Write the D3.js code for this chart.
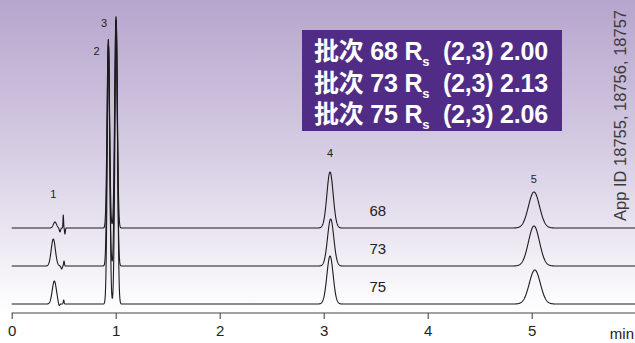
<!DOCTYPE html>
<html>
<head>
<meta charset="utf-8">
<script src="https://cdn.jsdelivr.net/npm/d3@7"></script>
<style>
  html, body { margin: 0; padding: 0; background: #fff; }
  svg { display: block; font-family: "Liberation Sans", Arial, sans-serif; }
</style>
</head>
<body>
<svg id="chart" width="635" height="343"></svg>
<script>
// batches and their Rs(2,3)
const batches = ["68", "73", "75"];
const resolutions = ["2.00", "2.13", "2.06"];
// vertical offset of each trace (signal units above the time axis)
const traceOffsets = [85, 47, 9];

// peak tables: [time (min), height, sigma (min)]
const peaks68 = [
  [0.416, 6, 0.015], [0.464, -4, 0.006], [0.496, 13, 0.003], [0.512, -6, 0.004],
  [0.929, 189, 0.012], [1.003, 212, 0.0125],
  [3.061, 56, 0.030],
  [5.022, 36, 0.053]
];
const peaks73 = [
  [0.400, 27, 0.020], [0.480, -3, 0.006], [0.503, 5, 0.004],
  [0.929, 222, 0.012], [1.003, 247, 0.0125],
  [3.067, 47, 0.030],
  [5.022, 40, 0.053]
];
const peaks75 = [
  [0.410, 23, 0.020], [0.455, -3, 0.007], [0.500, 4, 0.004],
  [0.931, 258, 0.012], [1.005, 284, 0.0125],
  [3.061, 48, 0.030],
  [5.030, 34, 0.053]
];
const peakTables = [peaks68, peaks73, peaks75];

// peak numbers and where their labels sit (time, signal level)
const peakIds = ["1", "2", "3", "4", "5"];
const peakLabelTimes = [0.40, 0.817, 0.887, 3.06, 5.02];
const peakLabelLevels = [115, 258, 286, 156, 130];

const timeTicks = [0, 1, 2, 3, 4, 5];
const appId = "App ID 18755, 18756, 18757";

const width = 635, height = 343;
const axisY = 313;

const svg = d3.select("#chart");

const x = d3.scaleLinear().domain([0, 6]).range([11.7, 635.7]);
const y = d3.scaleLinear().domain([0, axisY]).range([axisY, 0]);

// background gradient
const defs = svg.append("defs");
const grad = defs.append("linearGradient")
  .attr("id", "bg").attr("x1", 0).attr("y1", 0).attr("x2", 0).attr("y2", 1);
grad.append("stop").attr("offset", "0%").attr("stop-color", "#b6a5cd");
grad.append("stop").attr("offset", "50%").attr("stop-color", "#d7cee4");
grad.append("stop").attr("offset", "100%").attr("stop-color", "#ffffff");

svg.append("rect")
  .attr("x", 0).attr("y", 0)
  .attr("width", width).attr("height", axisY)
  .attr("fill", "url(#bg)");

// build signal from peak table
const times = d3.range(0, 6.0005, 0.002);
function signal(table, t) {
  let s = 0;
  for (const [t0, h, sd] of table) {
    const z = (t - t0) / sd;
    if (Math.abs(z) < 8) s += h * Math.exp(-0.5 * z * z);
  }
  return s;
}

const line = d3.line()
  .x((d) => x(d[0]))
  .y((d) => y(d[1]));

const traces = svg.append("g").attr("class", "traces");
peakTables.forEach((table, i) => {
  const pts = times.map((t) => [t, traceOffsets[i] + signal(table, t)]);
  traces.append("path")
    .datum(pts)
    .attr("d", line)
    .attr("fill", "none")
    .attr("stroke", "#1c1c1c")
    .attr("stroke-width", 1.1)
    .attr("stroke-linejoin", "round");
});

// trace labels
svg.append("g").selectAll("text")
  .data(batches)
  .join("text")
  .attr("x", x(3.52))
  .attr("y", (d, i) => y(traceOffsets[i]) - 12)
  .attr("text-anchor", "middle")
  .attr("font-size", 15)
  .attr("fill", "#222")
  .text((d) => d);

// peak labels
svg.append("g").selectAll("text")
  .data(peakIds)
  .join("text")
  .attr("x", (d, i) => x(peakLabelTimes[i]))
  .attr("y", (d, i) => y(peakLabelLevels[i]))
  .attr("text-anchor", "middle")
  .attr("font-size", 11)
  .attr("fill", "#222")
  .text((d) => d);

// time axis
const axis = svg.append("g")
  .attr("transform", `translate(0,${axisY})`)
  .call(d3.axisBottom(x).tickValues(timeTicks).tickSize(6).tickPadding(6).tickFormat(d3.format("d")));
axis.select(".domain").remove();
axis.selectAll(".tick line").attr("stroke", "#333");
axis.selectAll(".tick text")
  .attr("font-size", 15)
  .attr("font-family", "Liberation Sans, Arial, sans-serif")
  .attr("fill", "#222");
axis.append("line")
  .attr("x1", x(0)).attr("x2", width)
  .attr("y1", 0).attr("y2", 0)
  .attr("stroke", "#444").attr("stroke-width", 1.2);
axis.append("text")
  .attr("x", 634).attr("y", 26)
  .attr("text-anchor", "end")
  .attr("font-size", 15)
  .attr("fill", "#222")
  .text("min");

// Rs legend box
const box = svg.append("g").attr("transform", "translate(302,30)");
box.append("rect")
  .attr("width", 260).attr("height", 101)
  .attr("fill", "#512c86");
const rows = box.selectAll("text")
  .data(batches)
  .join("text")
  .attr("x", 12)
  .attr("y", (d, i) => 30 + i * 31.5)
  .attr("fill", "#fff")
  .attr("font-size", 25)
  .attr("font-weight", "bold")
  .attr("letter-spacing", -0.2)
  .attr("font-family", "Liberation Sans, 'Noto Sans CJK SC', Arial, sans-serif");
rows.append("tspan").text((d) => `批次 ${d} R`);
rows.append("tspan")
  .attr("font-size", 13).attr("dy", 6)
  .text("s");
rows.append("tspan")
  .attr("dy", -6)
  .text((d, i) => `\u00a0\u00a0(2,3) ${resolutions[i]}`);

// rotated app id
svg.append("text")
  .attr("transform", "translate(626,221) rotate(-90)")
  .attr("font-size", 16.5)
  .attr("fill", "#3a3a3a")
  .text(appId);
</script>
</body>
</html>
